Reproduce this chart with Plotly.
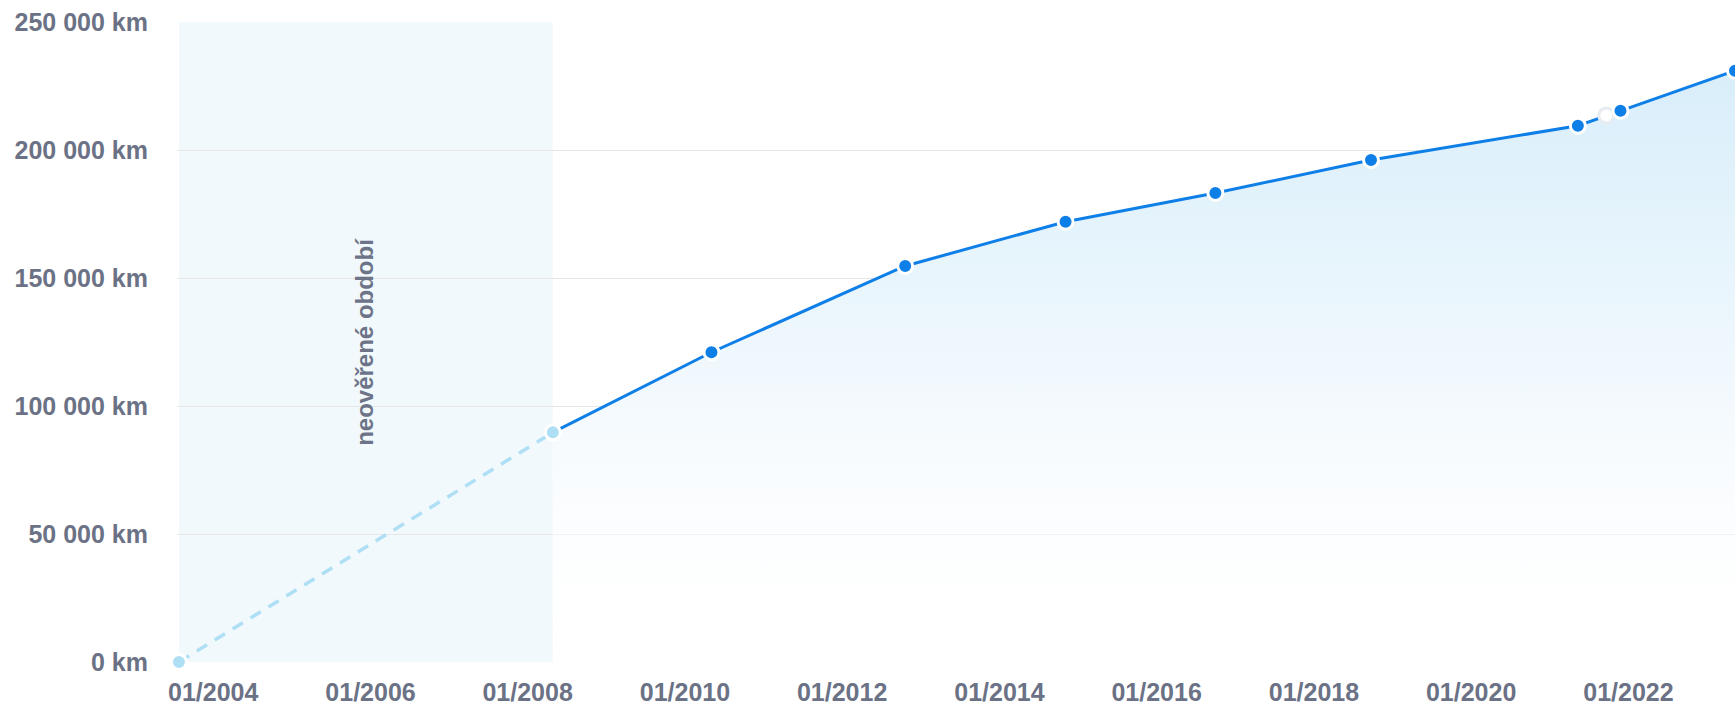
import plotly.graph_objects as go

# ---- data ----
dates = ["2003-07-26", "2008-04-27", "2010-05-04", "2012-10-20", "2014-11-04",
         "2016-09-30", "2018-09-23", "2021-05-11", "2021-09-20", "2021-11-25", "2023-05-11"]
km = [0, 89700, 121000, 154700, 172000, 183200, 196100, 209500, 213500, 215300, 231000]
verified_from = 1  # index where the verified period starts

y_tickvals = [0, 50000, 100000, 150000, 200000, 250000]
y_ticktext = ["0 km", "50 000 km", "100 000 km", "150 000 km", "200 000 km", "250 000 km"]
x_tickvals = ["2004-01-01", "2006-01-01", "2008-01-01", "2010-01-01", "2012-01-01",
              "2014-01-01", "2016-01-01", "2018-01-01", "2020-01-01", "2022-01-01"]
x_ticktext = ["01/2004", "01/2006", "01/2008", "01/2010", "01/2012",
              "01/2014", "01/2016", "01/2018", "01/2020", "01/2022"]
band_label = "neověřené období"
hidden_point = 8  # point drawn as a white marker

BLUE = "#0f7fe8"
LIGHT = "#aedff5"
LABEL = "#6b7285"
FONT = "Liberation Sans"

v_dates = dates[verified_from:]
v_km = km[verified_from:]

fig = go.Figure()

# gradient area under verified line
fig.add_trace(go.Scatter(
    x=v_dates, y=v_km, mode="lines", line=dict(width=0),
    fill="tozeroy",
    fillgradient=dict(type="vertical",
                      colorscale=[[0, "rgba(255,255,255,0)"], [0.4, "rgba(245,250,254,1)"],
                                  [0.7, "rgba(230,244,252,1)"], [1, "rgba(217,238,250,1)"]]),
    hoverinfo="skip", showlegend=False))

# verified line
fig.add_trace(go.Scatter(
    x=v_dates, y=v_km, mode="lines", line=dict(color=BLUE, width=3),
    hoverinfo="skip", showlegend=False))

# unverified dashed segment with light markers
fig.add_trace(go.Scatter(
    x=dates[:verified_from + 1], y=km[:verified_from + 1], mode="lines+markers",
    line=dict(color=LIGHT, width=3.5, dash="12px,9px"),
    marker=dict(color=LIGHT, size=15, line=dict(color="white", width=3)),
    cliponaxis=False, showlegend=False))

# verified markers
m_dates = dates[verified_from + 1:]
m_km = km[verified_from + 1:]
m_fill = ["white" if (i + verified_from + 1) == hidden_point else BLUE for i in range(len(m_dates))]
m_edge = ["#e6ecf1" if (i + verified_from + 1) == hidden_point else "white" for i in range(len(m_dates))]
fig.add_trace(go.Scatter(
    x=m_dates, y=m_km, mode="markers",
    marker=dict(color=m_fill, size=15, line=dict(color=m_edge, width=3)),
    showlegend=False))

# unverified period band
fig.add_shape(type="rect", xref="x", yref="y", x0=dates[0], x1=dates[verified_from],
              y0=0, y1=250000, fillcolor="#f2f9fd", line=dict(width=0), layer="below")

fig.add_annotation(x="2005-12-01", y=125000, xref="x", yref="y", text=band_label,
                   textangle=-90, showarrow=False,
                   font=dict(family=FONT, size=24, color="#6d7488", weight="bold"))

fig.update_layout(
    width=1735, height=706,
    margin=dict(l=177, r=0, t=22, b=42),
    paper_bgcolor="white", plot_bgcolor="white",
    font=dict(family=FONT, size=25, color=LABEL, weight="bold"),
    xaxis=dict(range=["2003-07-17", "2023-05-11"], tickvals=x_tickvals, ticktext=x_ticktext,
               showgrid=False, zeroline=False, showline=False, ticks="",
               ticklabelstandoff=13,
               tickfont=dict(family=FONT, size=25, color=LABEL, weight="bold")),
    yaxis=dict(range=[0, 250000], tickvals=y_tickvals, ticktext=y_ticktext,
               showgrid=True, gridcolor="#e6e6e6", gridwidth=1, zeroline=False,
               showline=False, ticks="", ticklabelstandoff=28,
               tickfont=dict(family=FONT, size=25, color=LABEL, weight="bold")),
)

fig.write_html("out.html")
